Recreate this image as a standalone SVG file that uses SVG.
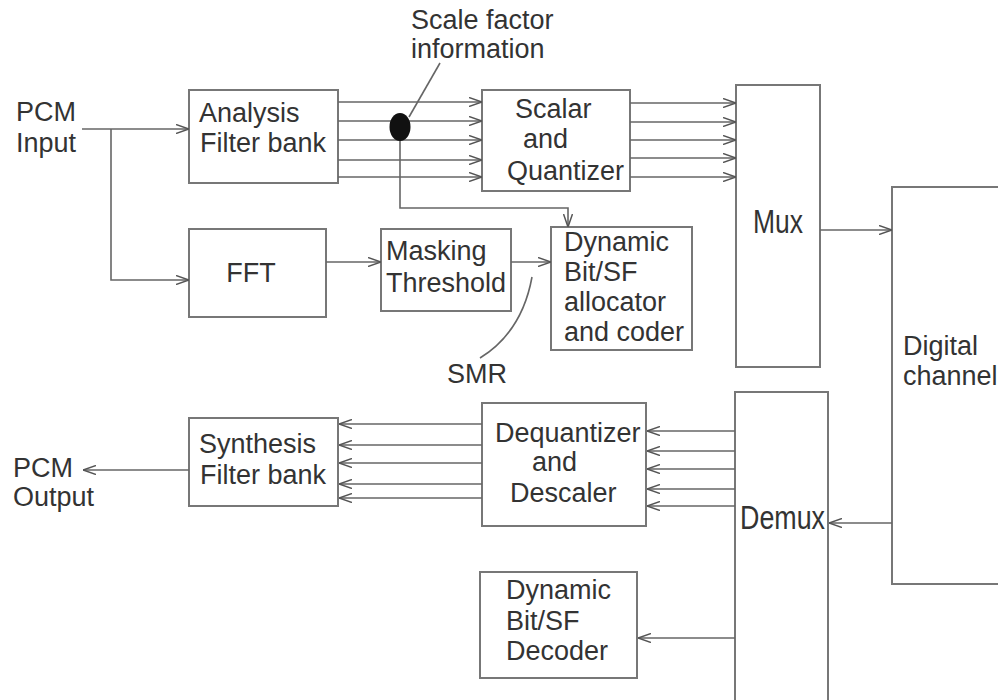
<svg xmlns="http://www.w3.org/2000/svg" width="998" height="700" viewBox="0 0 998 700">
<style>
.box{fill:#fff;stroke:#777;stroke-width:2}
.t{font-family:"Liberation Sans",Arial,sans-serif;font-size:27px;fill:#333}
.big{font-family:"Liberation Sans",Arial,sans-serif;fill:#333}
.c{fill:none;stroke:#666;stroke-width:1.6}
</style>
<defs>
<marker id="a" viewBox="0 0 13 10" refX="13" refY="5" markerWidth="13" markerHeight="10" markerUnits="userSpaceOnUse" orient="auto">
<path d="M0,0.5 L13,5 L0,9.5" fill="none" stroke="#555" stroke-width="1.5"/>
</marker>
</defs>
<rect width="998" height="700" fill="#fff"/>

<g id="pcm-input"><text class="t" x="16" y="121">PCM</text><text class="t" x="16" y="152">Input</text></g>
<g id="analysis"><rect class="box" x="189" y="90" width="149" height="93"/><text class="t" x="199" y="122">Analysis</text><text class="t" x="200" y="152">Filter bank</text></g>
<g id="fft"><rect class="box" x="189" y="229" width="137" height="88"/><text class="t" x="251" y="282" text-anchor="middle">FFT</text></g>
<g id="scale-label"><text class="t" x="411" y="29">Scale factor</text><text class="t" x="411" y="58">information</text></g>
<g id="scalar"><rect class="box" x="482" y="90" width="148" height="101"/><text class="t" x="515" y="118">Scalar</text><text class="t" x="523" y="148">and</text><text class="t" x="507" y="180">Quantizer</text></g>
<g id="masking"><rect class="box" x="381" y="229" width="130" height="82"/><text class="t" x="386" y="260">Masking</text><text class="t" x="386" y="292">Threshold</text></g>
<g id="allocator"><rect class="box" x="551" y="227" width="141" height="123"/><text class="t" x="564" y="251">Dynamic</text><text class="t" x="564" y="281">Bit/SF</text><text class="t" x="564" y="311">allocator</text><text class="t" x="564" y="341">and coder</text></g>
<g id="smr"><text class="t" x="447" y="383">SMR</text></g>
<g id="mux"><rect class="box" x="736" y="85" width="84" height="282"/><text class="big" x="753" y="233" font-size="34" textLength="50" lengthAdjust="spacingAndGlyphs">Mux</text></g>
<g id="digital-channel"><rect class="box" x="892" y="187" width="130" height="397"/><text class="t" x="903" y="355">Digital</text><text class="t" x="903" y="385">channel</text></g>
<g id="demux"><rect class="box" x="735" y="392" width="93" height="330"/><text class="big" x="740" y="529" font-size="33" textLength="85" lengthAdjust="spacingAndGlyphs">Demux</text></g>
<g id="dequantizer"><rect class="box" x="482" y="403" width="164" height="123"/><text class="t" x="495" y="442">Dequantizer</text><text class="t" x="532" y="471">and</text><text class="t" x="510" y="502">Descaler</text></g>
<g id="synthesis"><rect class="box" x="189" y="418" width="149" height="88"/><text class="t" x="199" y="453">Synthesis</text><text class="t" x="200" y="484">Filter bank</text></g>
<g id="pcm-output"><text class="t" x="13" y="477">PCM</text><text class="t" x="13" y="506">Output</text></g>
<g id="decoder"><rect class="box" x="480" y="572" width="157" height="106"/><text class="t" x="506" y="599">Dynamic</text><text class="t" x="506" y="630">Bit/SF</text><text class="t" x="506" y="660">Decoder</text></g>

<g id="connectors">
<path class="c" d="M82,129 H189" marker-end="url(#a)"/>
<path class="c" d="M111,129 V280 H189" marker-end="url(#a)"/>
<path class="c" d="M338,102 H482" marker-end="url(#a)"/>
<path class="c" d="M338,121 H482" marker-end="url(#a)"/>
<path class="c" d="M338,140 H482" marker-end="url(#a)"/>
<path class="c" d="M338,160 H482" marker-end="url(#a)"/>
<path class="c" d="M338,177 H482" marker-end="url(#a)"/>
<path class="c" d="M400,127 V208 H568 V227" marker-end="url(#a)"/>
<path class="c" d="M440,63 L409,117"/>
<path class="c" d="M630,103 H736" marker-end="url(#a)"/>
<path class="c" d="M630,122 H736" marker-end="url(#a)"/>
<path class="c" d="M630,140 H736" marker-end="url(#a)"/>
<path class="c" d="M630,158 H736" marker-end="url(#a)"/>
<path class="c" d="M630,177 H736" marker-end="url(#a)"/>
<path class="c" d="M820,230 H892" marker-end="url(#a)"/>
<path class="c" d="M326,262 H381" marker-end="url(#a)"/>
<path class="c" d="M511,262 H551" marker-end="url(#a)"/>
<path class="c" d="M532,277 Q522,332 480,358"/>
<path class="c" d="M892,523 H829" marker-end="url(#a)"/>
<path class="c" d="M735,431 H647" marker-end="url(#a)"/>
<path class="c" d="M735,451 H647" marker-end="url(#a)"/>
<path class="c" d="M735,469 H647" marker-end="url(#a)"/>
<path class="c" d="M735,489 H647" marker-end="url(#a)"/>
<path class="c" d="M735,506 H647" marker-end="url(#a)"/>
<path class="c" d="M482,424 H339" marker-end="url(#a)"/>
<path class="c" d="M482,445 H339" marker-end="url(#a)"/>
<path class="c" d="M482,463 H339" marker-end="url(#a)"/>
<path class="c" d="M482,484 H339" marker-end="url(#a)"/>
<path class="c" d="M482,498 H339" marker-end="url(#a)"/>
<path class="c" d="M189,470 H83" marker-end="url(#a)"/>
<path class="c" d="M735,638 H638" marker-end="url(#a)"/>
<ellipse cx="400" cy="127" rx="10.5" ry="14" fill="#111"/>
</g>
</svg>
